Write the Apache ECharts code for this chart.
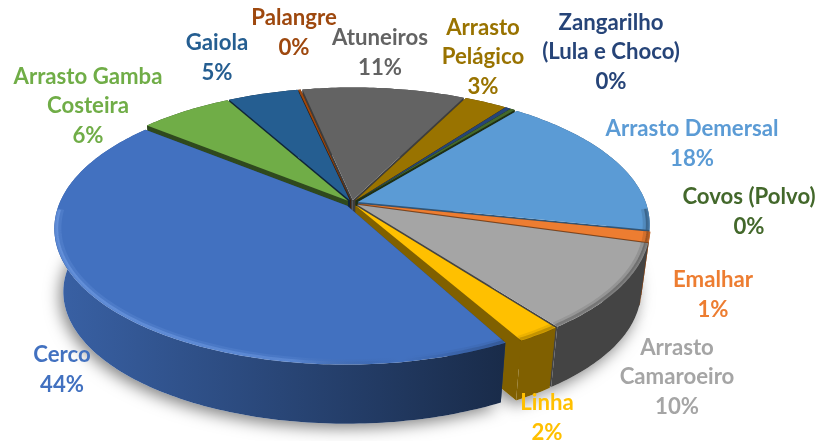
<!DOCTYPE html>
<html><head><meta charset="utf-8">
<style>html,body{margin:0;padding:0;background:#fff}#c{width:818px;height:441px}</style>
<script src="https://cdn.jsdelivr.net/npm/echarts@6/dist/echarts.min.js"></script>
</head><body><div id="c"></div>
<script>
// DATA (clockwise, beginning at the Arrasto Demersal slice)
const categories = ['Arrasto Demersal','Emalhar','Arrasto\nCamaroeiro','Linha','Cerco','Arrasto Gamba\nCosteira','Gaiola','Palangre','Atuneiros','Arrasto\nPelágico','Zangarilho\n(Lula e Choco)','Covos (Polvo)'];
const values = [17.6,1.2,10.3,2.1,44.2,6.1,4.6,0.15,10.6,2.8,0.35,0.3];

// STYLE
const colors = ['#5b9bd5','#ed7d31','#a5a5a5','#ffc000','#4271c0','#70ad47','#255e91','#9e480e','#636363','#997300','#264478','#43682b'];
const wallShade = [0.55,0.55,0.41,0.5,0.6,0.42,0.4,0.4,0.62,0.55,0.6,0.45];
const labelAnchors = [[692,144],[713,295],[677,377],[547,418],[62,370],[88,106],[217,58],[294,33],[380,53],[483,57],[611,52],[749,212]];

// LAYOUT of the tilted disc
const startAngle = 38.7, cx = 352, cy = 203, rx = 288, ay = 132, persp = 0.164;
const depth = 64, bottomScale = 0.97, explode = 0.022;
const cercoIndex = 4, cercoTrim = 1.2, cercoNudge = 1;
const rad = Math.PI / 180;
const total = values.reduce((a, b) => a + b, 0);

function proj(u, v, low) {
  const w = 1 - persp * v, s = low ? bottomScale : 1;
  return [cx + rx * u / w * s, cy + ay * v / w * s + (low ? depth : 0)];
}
function shade(hex, f) {
  const n = parseInt(hex.slice(1), 16);
  return 'rgb(' + [(n >> 16) & 255, (n >> 8) & 255, n & 255].map(c => Math.round(c * f)).join(',') + ')';
}
const sweeps = []; let acc = startAngle;
values.forEach(v => { const s = v / total * 360; sweeps.push([acc, acc + s]); acc += s; });
const rank = sweeps.map((s, i) => [i === cercoIndex ? 2 : -Math.cos((s[0] + s[1]) / 2 * rad), i]).sort((a, b) => a[0] - b[0]).map(p => p[1]);

const bevel = { type:'linear', global:true, x:55, y:0, x2:650, y2:0, colorStops:[
  {offset:0, color:'rgba(150,190,255,0.38)'},{offset:0.4, color:'rgba(150,190,255,0.25)'},
  {offset:0.58, color:'rgba(0,0,0,0)'},{offset:0.75, color:'rgba(0,0,0,0.18)'},{offset:1, color:'rgba(0,0,0,0.32)'}]};

function renderItem(params, api) {
  const i = api.value(1), val = api.value(0);
  const a0 = sweeps[i][0] + (i === cercoIndex ? cercoTrim : 0), a1 = sweeps[i][1], mid = (sweeps[i][0] + a1) / 2 * rad;
  const ox = explode * Math.sin(mid), oy = -explode * Math.cos(mid);
  const ny = i === cercoIndex ? cercoNudge : 0;
  const pt = (deg, low, f) => {
    const g = f === undefined ? 1 : f;
    const p = proj(g * Math.sin(deg * rad) + ox, -g * Math.cos(deg * rad) + oy, low);
    return [p[0], p[1] + ny];
  };
  const arc = (low, f) => { const out = [], n = Math.max(2, Math.ceil(a1 - a0)); for (let k = 0; k <= n; k++) out.push(pt(a0 + (a1 - a0) * k / n, low, f)); return out; };
  const apexT = [proj(ox, oy, false)[0], proj(ox, oy, false)[1] + ny], apexB = [proj(ox, oy, true)[0], proj(ox, oy, true)[1] + ny];
  const top = arc(false), bot = arc(true);
  const z = 10 + rank.indexOf(i) * 10, col = colors[i], sh = wallShade[i];
  const wallFill = i === cercoIndex
    ? { type:'linear', x:0, y:0, x2:1, y2:0, colorStops:[{offset:0,color:shade(col,0.86)},{offset:0.5,color:shade(col,0.62)},{offset:1,color:shade(col,0.38)}] }
    : shade(col, sh);
  const radial = shade(col, sh);
  const kids = [
    { type:'polygon', z2:-1, shape:{points:[apexB].concat(bot)}, style:{fill:'#fff', shadowBlur:16, shadowColor:'rgba(0,0,0,0.5)', shadowOffsetX:-3, shadowOffsetY:4} },
    { type:'polygon', z2:z, shape:{points:[apexT, top[0], bot[0], apexB]}, style:{fill:radial} },
    { type:'polygon', z2:z, shape:{points:[apexT, top[top.length-1], bot[bot.length-1], apexB]}, style:{fill:radial} },
    { type:'polygon', z2:z+1, shape:{points:top.concat(bot.slice().reverse())}, style:{fill:wallFill} },
    { type:'polygon', z2:z+2, shape:{points:[apexT].concat(top)}, style:{fill:col} }
  ];
  const frontOnly = pts => pts.filter(p => p[1] > cy + 5);
  const band = frontOnly(arc(false, 0.993));
  if (band.length > 1) {
    kids.push({ type:'polyline', z2:z+3, shape:{points:frontOnly(arc(false, 0.985))}, style:{fill:null, stroke:bevel, lineWidth:5, opacity:0.35} });
    kids.push({ type:'polyline', z2:z+3, shape:{points:band}, style:{fill:null, stroke:bevel, lineWidth:3.5, opacity:0.8} });
  }
  const pct = Math.round(val / total * 100);
  kids.push({ type:'text', z2:1000, x:labelAnchors[i][0], y:labelAnchors[i][1],
    style:{ text:categories[i] + '\n' + pct + '%', fill:col, font:'bold 22.2px Lato', lineHeight:29.5, align:'center', verticalAlign:'middle' } });
  return { type:'group', children:kids };
}

const chart = echarts.init(document.getElementById('c'), null, {renderer:'canvas'});
chart.setOption({
  animation:false,
  series:[{ type:'custom', coordinateSystem:'none', silent:true, clip:false, renderItem,
    data: values.map((v, i) => [v, i]) }]
});
</script></body></html>
